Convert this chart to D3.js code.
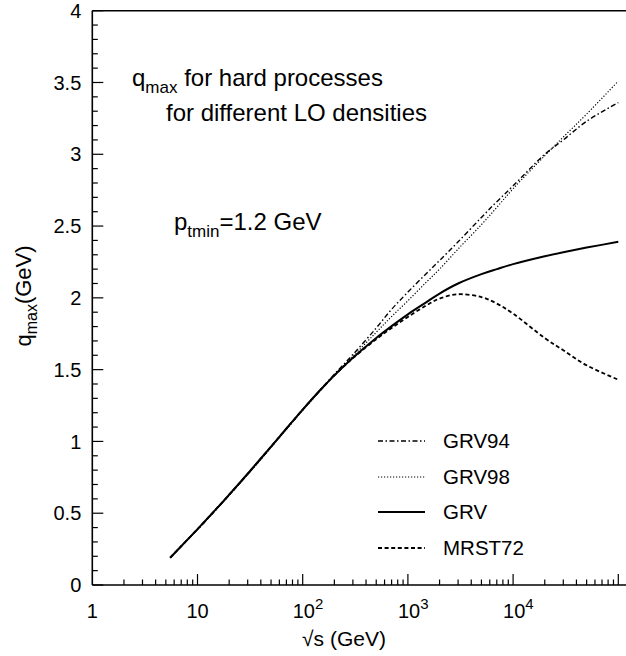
<!DOCTYPE html>
<html>
<head>
<meta charset="utf-8">
<script src="https://cdn.jsdelivr.net/npm/d3@7"></script>
<style>
  html, body { margin: 0; padding: 0; background: #fff; }
  svg { display: block; }
  text { font-family: "Liberation Sans", Arial, Helvetica, sans-serif; fill: #000; }
</style>
</head>
<body>
<svg id="chart" width="626" height="656"></svg>
<script>
// sqrt(s) grid in GeV
const sqrtS = [5.5, 7, 10, 15, 20, 30, 50, 70, 100, 150, 200, 300, 500, 700,
               1000, 1500, 2000, 3000, 5000, 7000, 10000, 20000, 30000, 50000, 100000];

// q_max (GeV) for each parton density set
const grv94  = [0.19, 0.27, 0.386, 0.525, 0.626, 0.772, 0.961, 1.087, 1.22, 1.366, 1.468, 1.605, 1.79, 1.92,
                2.04, 2.17, 2.26, 2.39, 2.56, 2.67, 2.78, 3.00, 3.10, 3.23, 3.36];
const grv98  = [0.19, 0.27, 0.386, 0.524, 0.624, 0.770, 0.958, 1.084, 1.217, 1.362, 1.462, 1.592, 1.76, 1.87,
                1.98, 2.11, 2.20, 2.34, 2.51, 2.63, 2.76, 2.99, 3.12, 3.28, 3.51];
const grv    = [0.19, 0.27, 0.389, 0.528, 0.629, 0.775, 0.964, 1.09, 1.222, 1.365, 1.46, 1.583, 1.721, 1.803,
                1.885, 1.97, 2.03, 2.10, 2.165, 2.20, 2.235, 2.29, 2.318, 2.35, 2.39];
const mrst72 = [0.19, 0.27, 0.389, 0.528, 0.629, 0.775, 0.964, 1.09, 1.222, 1.365, 1.46, 1.58, 1.712, 1.79,
                1.867, 1.948, 1.995, 2.025, 2.005, 1.96, 1.89, 1.72, 1.635, 1.53, 1.43];

const seriesNames = ["GRV94", "GRV98", "GRV", "MRST72"];
const seriesData  = [grv94, grv98, grv, mrst72];
const seriesDash  = ["5,2.5,1.5,2.5", "1.2,1.8", null, "4,2.6"];
const seriesWidth = [1.4, 1.2, 2, 1.8];

const yMajor = [0, 0.5, 1, 1.5, 2, 2.5, 3, 3.5, 4];
const xMajor = [1, 10, 100, 1000, 10000];
const xMajorLabels = [["1", ""], ["10", ""], ["10", "2"], ["10", "3"], ["10", "4"]];

const svg = d3.select("#chart");
const plotLeft = 92.3, plotBottom = 585, plotTop = 10.7;
const decade = 105.2;
const xEnd = 5.1; // frame runs a little past 10^5

const x = d3.scaleLog().domain([1, Math.pow(10, xEnd)]).range([plotLeft, plotLeft + xEnd * decade]);
const y = d3.scaleLinear().domain([0, 4]).range([plotBottom, plotTop]);

const axisColor = "#000";

// frame lines (left, bottom, top)
const frame = svg.append("g").attr("fill", "none").attr("stroke", axisColor).attr("stroke-width", 1.6);
frame.append("line").attr("x1", x(1)).attr("x2", x(1)).attr("y1", y(0)).attr("y2", y(4));
frame.append("line").attr("x1", x(1)).attr("x2", x.range()[1]).attr("y1", y(0)).attr("y2", y(0));
frame.append("line").attr("x1", x(1)).attr("x2", x.range()[1]).attr("y1", y(4)).attr("y2", y(4));

// y ticks: minor every 0.1, major every 0.5, pointing inward
const yTickG = svg.append("g").attr("stroke", axisColor).attr("stroke-width", 1.2);
d3.range(0, 41, 1).map(d => d / 10).forEach(v => {
  const isMajor = Math.abs(v * 2 - Math.round(v * 2)) < 1e-6;
  yTickG.append("line")
    .attr("x1", x(1)).attr("x2", x(1) + (isMajor ? 11 : 5.5))
    .attr("y1", y(v)).attr("y2", y(v));
});

// y tick labels
svg.append("g").selectAll("text").data(yMajor).join("text")
  .attr("x", x(1) - 11)
  .attr("y", d => y(d))
  .attr("dy", "0.36em")
  .attr("text-anchor", "end")
  .attr("font-size", 20)
  .text(d => d3.format("~g")(d));

// x ticks: log decades with 2..9 minor ticks, pointing inward
const xTickG = svg.append("g").attr("stroke", axisColor).attr("stroke-width", 1.2);
x.ticks().filter(d => d > 1 && d <= x.domain()[1]).forEach(v => {
  const lg = Math.log10(v);
  const isMajor = Math.abs(lg - Math.round(lg)) < 1e-9;
  xTickG.append("line")
    .attr("x1", x(v)).attr("x2", x(v))
    .attr("y1", y(0)).attr("y2", y(0) - (isMajor ? 11 : 5.5));
});

// x tick labels with superscript exponents
const xl = svg.append("g").attr("font-size", 20);
xMajor.forEach((v, i) => {
  const [base, exp] = xMajorLabels[i];
  const t = xl.append("text").attr("y", 618);
  if (exp) {
    t.attr("x", x(v) - 10).attr("text-anchor", "start");
    t.append("tspan").text(base);
    t.append("tspan").attr("font-size", 15).attr("dy", -9).text(exp);
  } else {
    t.attr("x", x(v)).attr("text-anchor", "middle").text(base);
  }
});

// axis titles
svg.append("text")
  .attr("x", 344).attr("y", 646)
  .attr("text-anchor", "middle")
  .attr("font-size", 21)
  .text("\u221As (GeV)");

const yt = svg.append("text")
  .attr("transform", "translate(31,296) rotate(-90)")
  .attr("text-anchor", "middle")
  .attr("font-size", 22);
yt.append("tspan").text("q");
yt.append("tspan").attr("font-size", 16).attr("dy", 6).text("max");
yt.append("tspan").attr("dy", -6).text("(GeV)");

// annotations
const t1 = svg.append("text").attr("x", 132).attr("y", 86).attr("font-size", 24);
t1.append("tspan").text("q");
t1.append("tspan").attr("font-size", 17).attr("dy", 7).text("max");
t1.append("tspan").attr("dy", -7).text(" for hard processes");

svg.append("text").attr("x", 166).attr("y", 121).attr("font-size", 24)
  .text("for different LO densities");

const t3 = svg.append("text").attr("x", 174).attr("y", 230).attr("font-size", 24);
t3.append("tspan").text("p");
t3.append("tspan").attr("font-size", 17).attr("dy", 7).text("tmin");
t3.append("tspan").attr("dy", -7).text("=1.2 GeV");

// curves
const line = d3.line()
  .x(d => x(d[0]))
  .y(d => y(d[1]))
  .curve(d3.curveCatmullRom.alpha(0.5));

const curves = svg.append("g").attr("fill", "none").attr("stroke", "#000");
seriesData.forEach((vals, i) => {
  curves.append("path")
    .datum(sqrtS.map((s, j) => [s, vals[j]]))
    .attr("d", line)
    .attr("stroke-width", seriesWidth[i])
    .attr("stroke-dasharray", seriesDash[i]);
});

// legend
const legRows = [441, 477, 512, 548];
const leg = svg.append("g");
seriesNames.forEach((name, i) => {
  leg.append("line")
    .attr("x1", 378).attr("x2", 425)
    .attr("y1", legRows[i]).attr("y2", legRows[i])
    .attr("stroke", "#000")
    .attr("stroke-width", seriesWidth[i])
    .attr("stroke-dasharray", seriesDash[i]);
  leg.append("text")
    .attr("x", 443).attr("y", legRows[i])
    .attr("dy", "0.36em")
    .attr("font-size", 20.5)
    .text(name);
});
</script>
</body>
</html>
